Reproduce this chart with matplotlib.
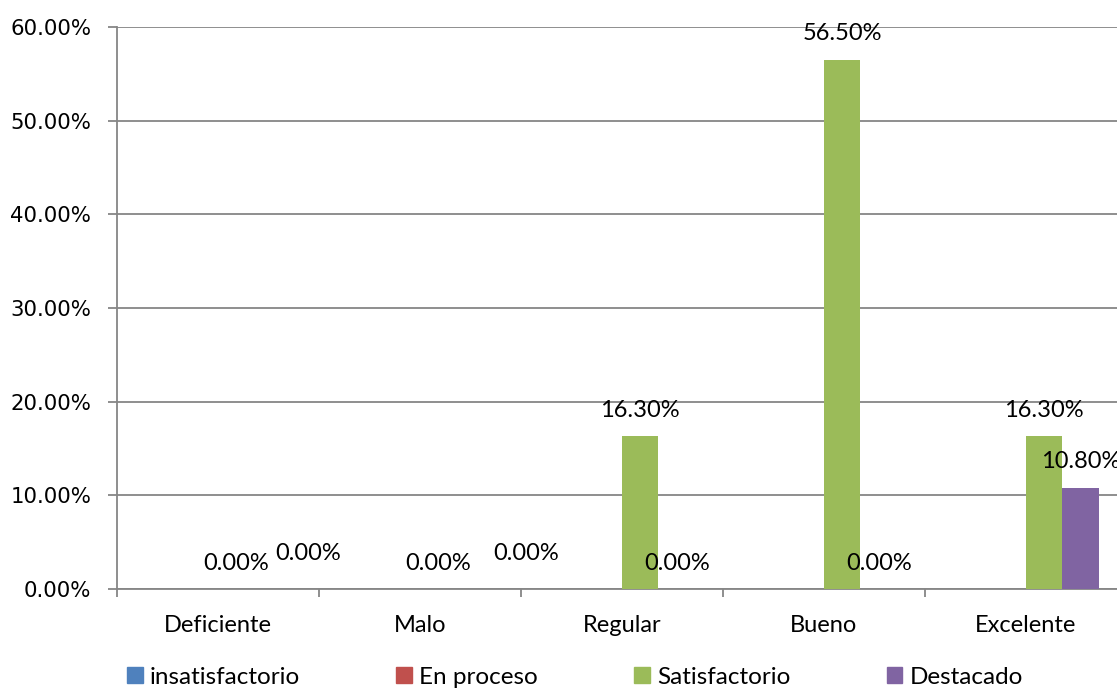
import matplotlib

matplotlib.use("Agg")

import matplotlib.pyplot as plt  # noqa: E402
import numpy as np  # noqa: E402
from matplotlib.patches import Patch  # noqa: E402
from matplotlib.ticker import FuncFormatter, MultipleLocator  # noqa: E402

categories = ["Deficiente", "Malo", "Regular", "Bueno", "Excelente"]
series_names = ["insatisfactorio", "En proceso", "Satisfactorio", "Destacado"]
insatisfactorio = [0.0, 0.0, 0.0, 0.0, 0.0]
en_proceso = [0.0, 0.0, 0.0, 0.0, 0.0]
satisfactorio = [0.0, 0.0, 0.163, 0.565, 0.163]
destacado = [0.0, 0.0, 0.0, 0.0, 0.108]

COLORS = ["#4F81BD", "#C0504D", "#9BBB59", "#8064A2"]
GRID = "#868686"
LABEL_FONT = "Lato"
BAR_W = 0.182
# only the last two series carry value labels; some are nudged (px) to avoid overlap
LABELLED = {2: {}, 3: {0: (35, 10), 1: (51, 10)}}

W, H = 1117, 689
fig = plt.figure(figsize=(W / 100, H / 100), dpi=100)
ax = fig.add_axes((117 / W, 100 / H, 1009.5 / W, 562 / H))

x = np.arange(len(categories))
all_series = [insatisfactorio, en_proceso, satisfactorio, destacado]
for i, vals in enumerate(all_series):
    offs = (i - 1.5) * BAR_W
    ax.bar(x + offs, vals, width=BAR_W, color=COLORS[i], zorder=3)
    if i in LABELLED:
        nudges = LABELLED[i]
        for j, v in enumerate(vals):
            dx, dy = nudges.get(j, (0, 0))
            ax.annotate(f"{v * 100:.2f}%", (x[j] + offs, v),
                        xytext=(dx * 0.72, (26 + dy) * 0.72),
                        textcoords="offset points", ha="center", va="center",
                        fontsize=17, family=LABEL_FONT, color="black",
                        annotation_clip=False, zorder=4)

ax.set_xlim(-0.5, len(categories) - 0.5)
ax.set_ylim(0, 0.6)
ax.yaxis.set_major_locator(MultipleLocator(0.1))
ax.yaxis.set_major_formatter(FuncFormatter(lambda v, _: f"{v * 100:.2f}%"))
ax.grid(axis="y", color=GRID, lw=1.3, zorder=0)

ax.set_xticks(x)
ax.set_xticklabels(categories, fontsize=17, family=LABEL_FONT)
ax.set_xticks(np.arange(-0.5, len(categories)), minor=True)
ax.tick_params(axis="x", which="major", length=0, pad=19)
ax.tick_params(axis="x", which="minor", length=6, width=1.3, color=GRID)
ax.tick_params(axis="y", length=6.5, width=1.3, color=GRID, pad=12,
               labelsize=15.3)

for side in ("top", "right"):
    ax.spines[side].set_visible(False)
for side in ("left", "bottom"):
    ax.spines[side].set_color(GRID)
    ax.spines[side].set_linewidth(1.3)

handles = [Patch(color=c) for c in COLORS]
fig.legend(handles, series_names, loc="center", bbox_to_anchor=(575 / W, 12 / H),
           ncol=4, frameon=False, prop={"family": LABEL_FONT, "size": 17.5},
           handlelength=0.65, handleheight=0.65, handletextpad=0.3,
           columnspacing=3.95, borderaxespad=0)

fig.savefig("out.png", dpi=100)
